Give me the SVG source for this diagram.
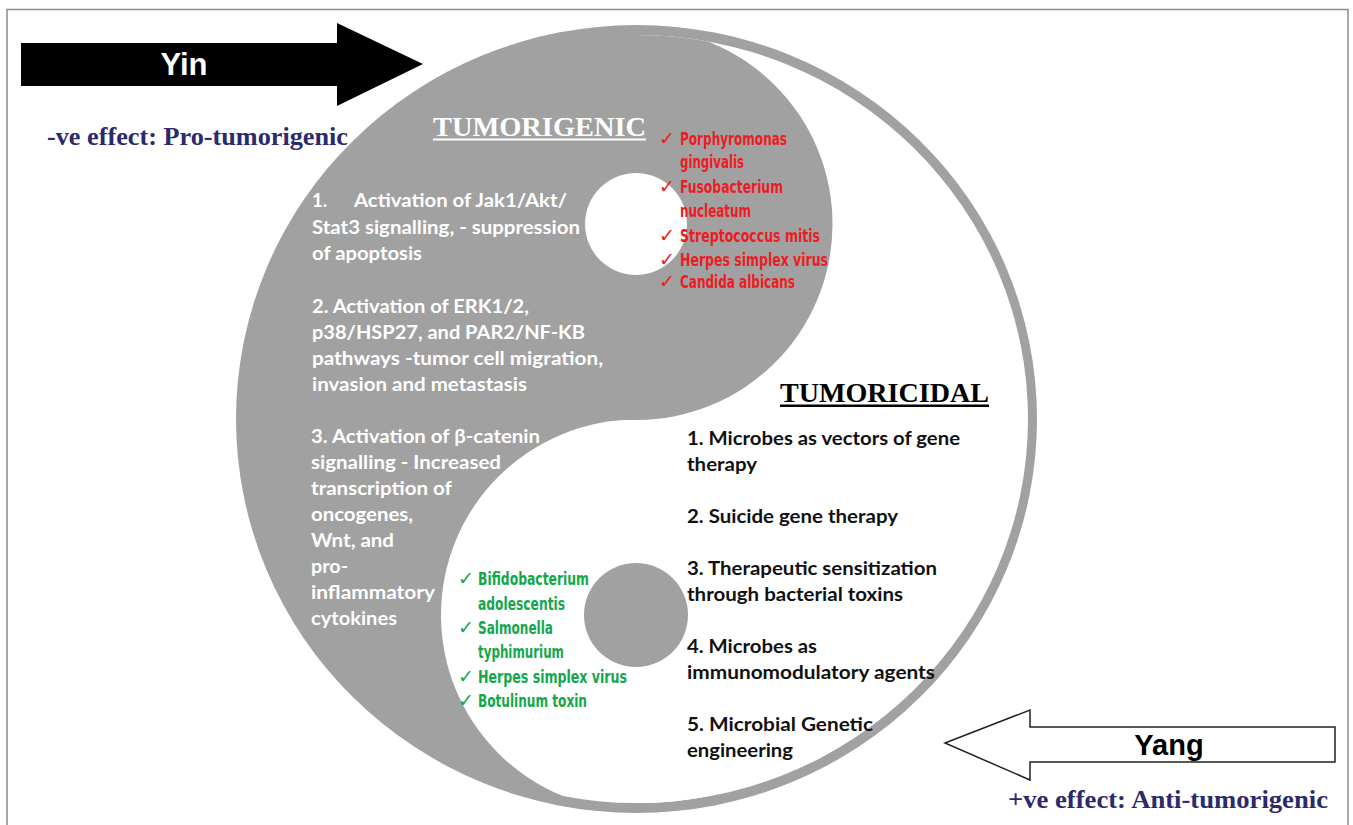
<svg xmlns="http://www.w3.org/2000/svg" width="1353" height="825" viewBox="0 0 1353 825">
<style>
.cal{font-family:Lato,"Open Sans","Liberation Sans",sans-serif;font-weight:bold;font-size:18.5px}
.wt{fill:#ffffff}
.bk{fill:#111111}
.hand{font-family:"DejaVu Sans Condensed","Liberation Sans Narrow",sans-serif;font-weight:bold;font-size:17px}
.chk{font-family:"DejaVu Sans",sans-serif;font-size:19px}
.red{fill:#ec1c24}
.grn{fill:#12a84a}
.serif{font-family:"Liberation Serif","Times New Roman",serif;font-weight:bold}
.navy{fill:#2b2a6c}
.arial{font-family:"Liberation Sans",Arial,sans-serif;font-weight:bold}
</style>
<defs>
<clipPath id="inner"><ellipse cx="636.5" cy="419" rx="391.5" ry="384"/></clipPath>
</defs>
<rect width="1353" height="825" fill="#ffffff"/>
<rect x="7" y="9.5" width="1341" height="840" fill="none" stroke="#8c8c8c" stroke-width="1.5"/>

<g id="yinyang">
<ellipse cx="636.5" cy="419" rx="400.5" ry="394" fill="#a1a1a1"/>
<g clip-path="url(#inner)">
<rect x="636.5" y="20" width="420" height="800" fill="#ffffff"/>
<circle cx="636.5" cy="615" r="195.5" fill="#ffffff"/>
<circle cx="636.5" cy="224" r="196" fill="#a1a1a1"/>
</g>
<circle cx="636" cy="224" r="51" fill="#ffffff"/>
<circle cx="636" cy="615" r="52" fill="#a1a1a1"/>
</g>

<g id="yin-arrow">
<polygon points="21,43 337,43 337,23 423,64 337,106 337,86 21,86" fill="#000000"/>
<text class="arial" x="184" y="75" font-size="31" fill="#ffffff" text-anchor="middle">Yin</text>
</g>
<g id="yin-effect">
<text class="serif navy" x="47" y="145" font-size="26" textLength="301" lengthAdjust="spacingAndGlyphs">-ve effect: Pro-tumorigenic</text>
</g>

<g id="yang-arrow">
<polygon points="945,743 1030,710 1030,727 1335,727 1335,762 1030,762 1030,780" fill="#ffffff" stroke="#222222" stroke-width="1.5" stroke-linejoin="miter"/>
<text class="arial" x="1169" y="755" font-size="29" fill="#000000" text-anchor="middle">Yang</text>
</g>
<g id="yang-effect">
<text class="serif navy" x="1008" y="808" font-size="26" textLength="320" lengthAdjust="spacingAndGlyphs">+ve effect: Anti-tumorigenic</text>
</g>

<g id="tumorigenic">
<text class="serif" x="433" y="136" font-size="28" fill="#ffffff" textLength="213" lengthAdjust="spacingAndGlyphs">TUMORIGENIC</text>
<rect x="433" y="138.5" width="213" height="2" fill="#ffffff"/>
<g class="cal wt">
<text x="312" y="207">1.</text>
<text x="354" y="207" textLength="213" lengthAdjust="spacingAndGlyphs">Activation of Jak1/Akt/</text>
<text x="312" y="234" textLength="268" lengthAdjust="spacingAndGlyphs">Stat3 signalling, - suppression</text>
<text x="312" y="260" textLength="110" lengthAdjust="spacingAndGlyphs">of apoptosis</text>
<text x="312" y="313" textLength="217" lengthAdjust="spacingAndGlyphs">2. Activation of ERK1/2,</text>
<text x="312" y="339" textLength="273" lengthAdjust="spacingAndGlyphs">p38/HSP27, and PAR2/NF-KB</text>
<text x="312" y="365" textLength="291" lengthAdjust="spacingAndGlyphs">pathways -tumor cell migration,</text>
<text x="312" y="391" textLength="215" lengthAdjust="spacingAndGlyphs">invasion and metastasis</text>
<text x="311" y="443" textLength="229" lengthAdjust="spacingAndGlyphs">3. Activation of β-catenin</text>
<text x="311" y="469" textLength="190" lengthAdjust="spacingAndGlyphs">signalling - Increased</text>
<text x="311" y="495" textLength="141" lengthAdjust="spacingAndGlyphs">transcription of</text>
<text x="311" y="521" textLength="102" lengthAdjust="spacingAndGlyphs">oncogenes,</text>
<text x="311" y="547" textLength="83" lengthAdjust="spacingAndGlyphs">Wnt, and</text>
<text x="311" y="573" textLength="37" lengthAdjust="spacingAndGlyphs">pro-</text>
<text x="311" y="599" textLength="124" lengthAdjust="spacingAndGlyphs">inflammatory</text>
<text x="311" y="625" textLength="86" lengthAdjust="spacingAndGlyphs">cytokines</text>
</g>
</g>

<g id="tumorigenic-microbes">
<g class="chk red">
<text x="659" y="145">✓</text>
<text x="659" y="193">✓</text>
<text x="659" y="242">✓</text>
<text x="659" y="266">✓</text>
<text x="659" y="288">✓</text>
</g>
<g class="hand red">
<text x="680" y="145" textLength="107" lengthAdjust="spacingAndGlyphs">Porphyromonas</text>
<text x="680" y="168" textLength="64" lengthAdjust="spacingAndGlyphs">gingivalis</text>
<text x="680" y="193" textLength="103" lengthAdjust="spacingAndGlyphs">Fusobacterium</text>
<text x="680" y="217" textLength="71" lengthAdjust="spacingAndGlyphs">nucleatum</text>
<text x="680" y="242" textLength="140" lengthAdjust="spacingAndGlyphs">Streptococcus mitis</text>
<text x="680" y="266" textLength="148" lengthAdjust="spacingAndGlyphs">Herpes simplex virus</text>
<text x="680" y="288" textLength="115" lengthAdjust="spacingAndGlyphs">Candida albicans</text>
</g>
</g>

<g id="tumoricidal">
<text class="serif" x="780" y="402" font-size="28" fill="#000000" textLength="209" lengthAdjust="spacingAndGlyphs">TUMORICIDAL</text>
<rect x="780" y="404.5" width="209" height="2.5" fill="#000000"/>
<g class="cal bk">
<text x="687" y="445" textLength="273" lengthAdjust="spacingAndGlyphs">1. Microbes as vectors of gene</text>
<text x="687" y="471" textLength="70" lengthAdjust="spacingAndGlyphs">therapy</text>
<text x="687" y="523" textLength="211" lengthAdjust="spacingAndGlyphs">2. Suicide gene therapy</text>
<text x="687" y="575" textLength="250" lengthAdjust="spacingAndGlyphs">3. Therapeutic sensitization</text>
<text x="687" y="601" textLength="216" lengthAdjust="spacingAndGlyphs">through bacterial toxins</text>
<text x="687" y="653" textLength="130" lengthAdjust="spacingAndGlyphs">4. Microbes as</text>
<text x="687" y="679" textLength="248" lengthAdjust="spacingAndGlyphs">immunomodulatory agents</text>
<text x="687" y="731" textLength="186" lengthAdjust="spacingAndGlyphs">5. Microbial Genetic</text>
<text x="687" y="757" textLength="106" lengthAdjust="spacingAndGlyphs">engineering</text>
</g>
</g>

<g id="tumoricidal-microbes">
<g class="chk grn">
<text x="458" y="585">✓</text>
<text x="458" y="634">✓</text>
<text x="458" y="683">✓</text>
<text x="458" y="707">✓</text>
</g>
<g class="hand grn">
<text x="478" y="585" textLength="111" lengthAdjust="spacingAndGlyphs">Bifidobacterium</text>
<text x="478" y="610" textLength="87" lengthAdjust="spacingAndGlyphs">adolescentis</text>
<text x="478" y="634" textLength="75" lengthAdjust="spacingAndGlyphs">Salmonella</text>
<text x="478" y="658" textLength="86" lengthAdjust="spacingAndGlyphs">typhimurium</text>
<text x="478" y="683" textLength="149" lengthAdjust="spacingAndGlyphs">Herpes simplex virus</text>
<text x="478" y="707" textLength="109" lengthAdjust="spacingAndGlyphs">Botulinum toxin</text>
</g>
</g>

<g id="connectors"></g>
</svg>
